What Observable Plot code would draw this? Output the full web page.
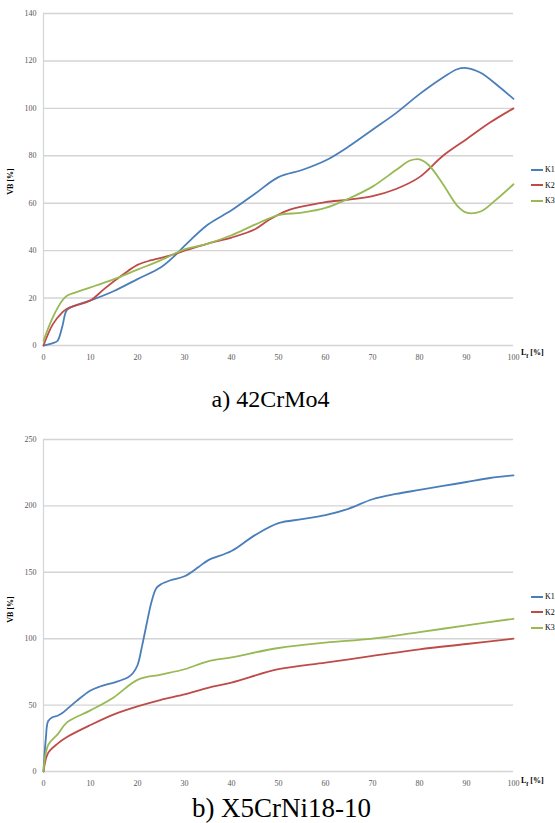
<!DOCTYPE html>
<html>
<head>
<meta charset="utf-8">
<script src="https://cdn.jsdelivr.net/npm/d3@7"></script>
<script src="https://cdn.jsdelivr.net/npm/@observablehq/plot@0.6"></script>
<style>
  html, body { margin:0; padding:0; background:#fff; }
  body { width:555px; height:823px; overflow:hidden; position:relative; font-family:"Liberation Serif", "Times New Roman", serif; }
  .chart { position:absolute; left:0; }
  .caption { position:absolute; width:555px; text-align:center; line-height:1; color:#000; white-space:nowrap; }
  .ylab { position:absolute; font-size:8px; font-weight:bold; color:#000; transform:rotate(-90deg); transform-origin:center; white-space:nowrap; }
  .xlab { position:absolute; font-size:8px; font-weight:bold; color:#000; white-space:nowrap; }
  .legend { position:absolute; left:531px; font-size:8px; color:#000; white-space:nowrap; }
  .legend div { height:15.5px; display:flex; align-items:center; }
  .legend span.sw { display:inline-block; width:12px; height:2px; margin-right:2px; }
</style>
</head>
<body>
<script>
// ---------- data ----------
const series = ["K1", "K2", "K3"];
const colors = ["#4a7ebb", "#be4b48", "#98b954"];
const xTicks = [0, 10, 20, 30, 40, 50, 60, 70, 80, 90, 100];
const topYTicks = [0, 20, 40, 60, 80, 100, 120, 140];
const botYTicks = [0, 50, 100, 150, 200, 250];

// a) 42CrMo4
const aK1x = [0, 2, 3, 4, 5, 7, 10, 15, 20, 25, 28, 30, 35, 40, 45, 50, 55, 60, 65, 70, 75, 80, 85, 88, 90, 93, 97, 100];
const aK1y = [0, 1, 2, 8, 15, 17, 19, 23, 28, 33, 38, 42, 51, 57, 64, 71, 74, 78, 84, 91, 98, 106, 113, 116.5, 117, 115, 109, 104];
const aK2x = [0, 2, 4, 5, 7, 10, 13, 17, 20, 23, 27, 30, 35, 40, 45, 48, 52, 56, 60, 65, 70, 75, 80, 85, 90, 95, 100];
const aK2y = [0, 9, 14, 15.5, 17, 19, 24, 30, 34, 36, 38, 40, 43, 45.5, 49, 53, 57, 59, 60.5, 61.5, 63, 66, 71, 80, 87, 94, 100];
const aK3x = [0, 2, 4, 5, 7, 10, 15, 20, 25, 30, 35, 40, 45, 50, 55, 60, 65, 70, 75, 78, 80, 82, 85, 88, 90, 93, 96, 100];
const aK3y = [2, 12, 19, 21, 22.5, 24.5, 28, 32, 36, 40.5, 43, 46.5, 51, 55, 56, 58, 62, 67, 74, 78, 78.5, 76, 68, 59, 56, 56.5, 61, 68];

// b) X5CrNi18-10
const bK1x = [0, 0.5, 1, 2, 3, 4, 5, 7, 10, 12, 15, 18, 19, 20, 21, 22, 23, 24, 25, 27, 30, 33, 35, 40, 45, 50, 55, 60, 65, 70, 75, 80, 85, 90, 95, 100];
const bK1y = [0, 25, 38, 41, 42, 44, 47, 53, 61, 64, 67, 71, 74, 80, 95, 112, 128, 138, 141, 144, 147, 154, 159, 166, 178, 187, 190, 193, 198, 205, 209, 212, 215, 218, 221, 223];
const bK2x = [0, 1, 3, 5, 10, 15, 20, 25, 30, 35, 40, 50, 60, 70, 80, 90, 100];
const bK2y = [0, 14, 21, 26, 35, 43, 49, 54, 58, 63, 67, 77, 82, 87, 92, 96, 100];
const bK3x = [0, 1, 3, 5, 10, 15, 20, 25, 30, 35, 40, 50, 60, 70, 80, 90, 100];
const bK3y = [0, 20, 28, 37, 46, 56, 69, 73, 77, 83, 86, 93, 97, 100, 105, 110, 115];

function rows(name, xs, ys) { return xs.map((x, i) => ({ s: name, x, v: ys[i] })); }
const dataA = [...rows("K1", aK1x, aK1y), ...rows("K2", aK2x, aK2y), ...rows("K3", aK3x, aK3y)];
const dataB = [...rows("K1", bK1x, bK1y), ...rows("K2", bK2x, bK2y), ...rows("K3", bK3x, bK3y)];

function chart(data, yTicks, yMax, height, marginTop) {
  return Plot.plot({
    width: 555, height, marginTop, marginBottom: 25, marginLeft: 43, marginRight: 42,
    style: { fontFamily: "Liberation Serif, Times New Roman, serif", fontSize: "8px", color: "#595959", background: "transparent", overflow: "visible" },
    x: { domain: [0, 100], ticks: xTicks, tickSize: 0, tickPadding: 9, label: null },
    y: { domain: [0, yMax], ticks: yTicks, tickSize: 0, tickPadding: 7, label: null },
    color: { domain: series, range: colors },
    marks: [
      Plot.gridY(yTicks, { stroke: "#d4d4d4", strokeOpacity: 1, strokeWidth: 1.4 }),
      Plot.ruleX([0], { stroke: "#d4d4d4", strokeWidth: 1.2 }),
      Plot.lineY(data, { x: "x", y: "v", stroke: "s", curve: "catmull-rom", strokeWidth: 1.8 })
    ]
  });
}

const a = chart(dataA, topYTicks, 140, 370, 13);
a.classList.add("chart"); a.style.top = "0px";
document.body.appendChild(a);
const b = chart(dataB, botYTicks, 250, 381, 24);
b.classList.add("chart"); b.style.top = "415px";
document.body.appendChild(b);

function addDiv(cls, html, style) {
  const d = document.createElement("div");
  d.className = cls; d.innerHTML = html; Object.assign(d.style, style);
  document.body.appendChild(d);
  return d;
}
addDiv("caption", "a) 42CrMo4", { top: "387px", left: "-7px", fontSize: "24px" });
addDiv("caption", "b) X5CrNi18-10", { top: "795px", left: "4px", fontSize: "27px" });
addDiv("ylab", "VB [%]", { left: "-3px", top: "177px" });
addDiv("ylab", "VB [%]", { left: "-3px", top: "605px" });
addDiv("xlab", "L<sub style='font-size:6px'>f</sub> [%]", { left: "521px", top: "348px" });
addDiv("xlab", "L<sub style='font-size:6px'>f</sub> [%]", { left: "521px", top: "776px" });

function legend(top) {
  const html = series.map((s, i) => `<div><span class="sw" style="background:${colors[i]}"></span>${s}</div>`).join("");
  addDiv("legend", html, { top: top + "px" });
}
legend(162);
legend(589);
</script>
</body>
</html>
